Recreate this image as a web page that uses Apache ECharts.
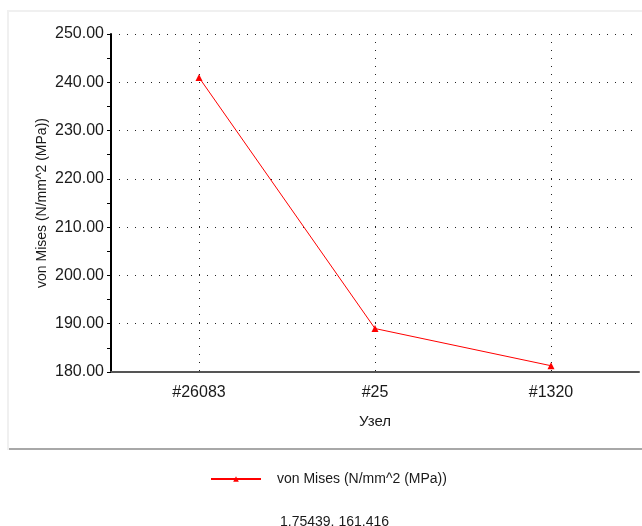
<!DOCTYPE html>
<html>
<head>
<meta charset="utf-8">
<script src="https://cdn.jsdelivr.net/npm/echarts@6/dist/echarts.min.js"></script>
<style>html,body{margin:0;padding:0;background:#fff;}#c{width:642px;height:526px;}</style>
</head>
<body>
<div id="c"></div>
<script>
const categories = ['#26083', '#25', '#1320'];
const vonMises = [241.0, 189.0, 181.3];
const seriesName = 'von Mises (N/mm^2 (MPa))';
const yAxisName = 'von Mises (N/mm^2 (MPa))';
const xAxisName = 'Узел';
const statusText = '1.75439, 161.416';

const FONT = 'Liberation Sans';
const chart = echarts.init(document.getElementById('c'), null, {renderer: 'canvas'});
const dotted = {color: '#222', width: 1, type: [1, 7]};
chart.setOption({
  animation: false,
  backgroundColor: '#fff',
  textStyle: {fontFamily: FONT},
  graphic: [
    {type: 'rect', z: -10, shape: {x: 8, y: 11, width: 640, height: 438}, style: {fill: '#fff', stroke: '#f0f0f0', lineWidth: 2}},
    {type: 'rect', z: -9, shape: {x: 9, y: 448, width: 640, height: 2}, style: {fill: '#a8a8a8'}},
    {type: 'text', left: 280, top: 515, style: {text: statusText, font: '14px "Liberation Sans"', fill: '#1a1a1a'}}
  ],
  grid: {left: 111, right: 3, top: 34, bottom: 154, containLabel: false},
  legend: {
    left: 205, top: 467,
    itemWidth: 50, itemHeight: 7,
    textStyle: {fontSize: 14, color: '#1a1a1a', fontFamily: FONT, padding: [0, 0, 0, 11]},
    data: [seriesName]
  },
  xAxis: {
    type: 'category',
    data: categories,
    boundaryGap: true,
    name: xAxisName,
    nameLocation: 'middle',
    nameGap: 42,
    nameMoveOverlap: false,
    nameTextStyle: {fontSize: 15, color: '#1a1a1a', fontFamily: FONT},
    axisLine: {lineStyle: {color: '#555', width: 2}},
    axisTick: {alignWithLabel: true, length: 4, lineStyle: {color: '#333'}},
    axisLabel: {fontSize: 16, color: '#1a1a1a', margin: 13, fontFamily: FONT},
    splitLine: {show: true, alignWithLabel: true, lineStyle: dotted}
  },
  yAxis: {
    type: 'value',
    min: 180, max: 250, interval: 10,
    name: yAxisName,
    nameLocation: 'middle',
    nameGap: 62,
    nameMoveOverlap: false,
    nameRotate: 90,
    nameTextStyle: {fontSize: 14, color: '#1a1a1a', fontFamily: FONT},
    axisLine: {show: true, lineStyle: {color: '#000', width: 2}},
    axisTick: {show: true, length: 4, lineStyle: {color: '#000'}},
    minorTick: {show: true, splitNumber: 2, length: 4, lineStyle: {color: '#000'}},
    axisLabel: {fontSize: 16, color: '#1a1a1a', margin: 7, fontFamily: FONT, formatter: v => v.toFixed(2)},
    splitLine: {show: true, lineStyle: dotted}
  },
  series: [{
    name: seriesName,
    type: 'line',
    data: vonMises,
    symbol: 'triangle',
    symbolSize: 7,
    lineStyle: {color: '#ff0000', width: 1},
    itemStyle: {color: '#ff0000'}
  }]
});
</script>
</body>
</html>
